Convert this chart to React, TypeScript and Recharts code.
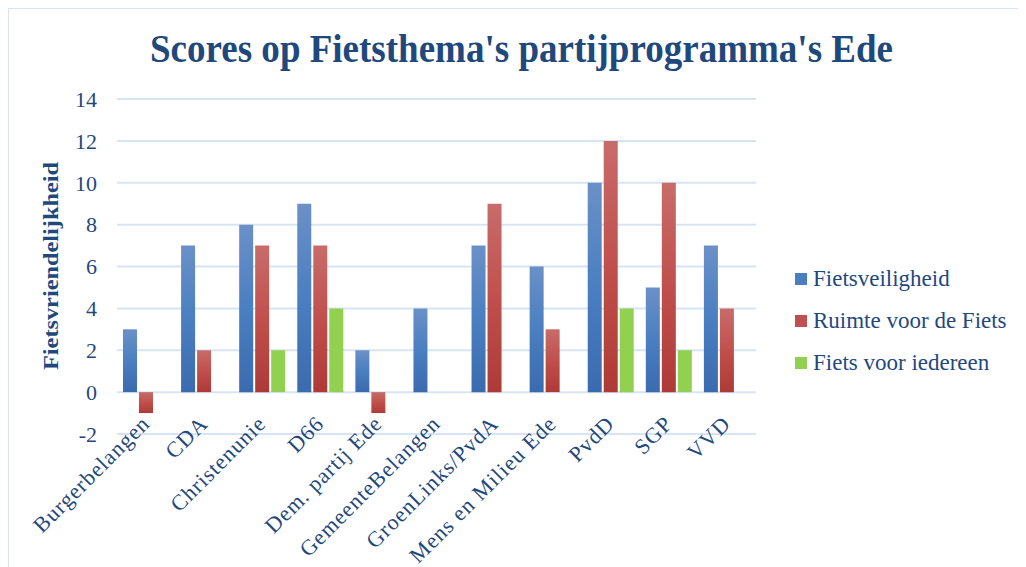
import React from 'react';
import { BarChart, Bar, XAxis, YAxis, CartesianGrid, Legend, Label } from 'recharts';

const categories = [
  'Burgerbelangen',
  'CDA',
  'Christenunie',
  'D66',
  'Dem. partij Ede',
  'GemeenteBelangen',
  'GroenLinks/PvdA',
  'Mens en Milieu Ede',
  'PvdD',
  'SGP',
  'VVD',
];
const fietsveiligheid = [3, 7, 8, 9, 2, 4, 7, 6, 10, 5, 7];
const ruimteVoorDeFiets = [-1, 2, 7, 7, -1, 0, 9, 3, 12, 10, 4];
const fietsVoorIedereen = [0, 0, 2, 4, 0, 0, 0, 0, 4, 2, 0];
const yTicks = [-2, 0, 2, 4, 6, 8, 10, 12, 14];

const seriesNames = ['Fietsveiligheid', 'Ruimte voor de Fiets', 'Fiets voor iedereen'];
const title = "Scores op Fietsthema's partijprogramma's Ede";
const yLabel = 'Fietsvriendelijkheid';

const data = categories.map((name, i) => ({
  name,
  a: fietsveiligheid[i],
  b: ruimteVoorDeFiets[i],
  c: fietsVoorIedereen[i],
}));

const TEXT = '#1F497D';
const FONT = '"Liberation Serif", "Times New Roman", serif';
const GRID = '#D9E4F3';

const legendColors = ['#4A7EBF', '#C0504D', '#92D050'];

const XTick = (props: any) => {
  const { x, y, payload } = props;
  const ax = x + 5;
  const ay = y - 9;
  return (
    <text
      x={ax}
      y={ay}
      transform={`rotate(-45, ${ax}, ${ay})`}
      textAnchor="end"
      fill={TEXT}
      fontFamily={FONT}
      fontSize={22}
      letterSpacing={1}
    >
      {payload.value}
    </text>
  );
};

const LegendContent = () => (
  <div style={{ position: 'absolute', left: 0, top: 0, width: 230, height: 126, fontFamily: FONT }}>
    {seriesNames.map((n, i) => (
      <div
        key={n}
        style={{
          position: 'absolute',
          left: 0,
          top: i * 42,
          height: 42,
          display: 'flex',
          alignItems: 'center',
          whiteSpace: 'nowrap',
        }}
      >
        <span
          style={{
            display: 'inline-block',
            width: 12,
            height: 12,
            background: legendColors[i],
            marginRight: 6,
          }}
        />
        <span style={{ color: TEXT, fontSize: 23 }}>{n}</span>
      </div>
    ))}
  </div>
);

export default function App() {
  return (
    <div
      style={{
        marginLeft: -1,
        marginTop: -1,
        width: 1030,
        height: 570,
        borderLeft: `2px solid ${GRID}`,
        borderTop: `2px solid ${GRID}`,
        position: 'relative',
        background: '#fff',
      }}
    >
      <svg
        width={1017}
        height={80}
        style={{ position: 'absolute', left: 0, top: 0, zIndex: 2, pointerEvents: 'none' }}
      >
        <text
          x={512.5}
          y={53}
          textAnchor="middle"
          fill={TEXT}
          fontFamily={FONT}
          fontWeight="bold"
          fontSize={39}
          textLength={743}
          lengthAdjust="spacingAndGlyphs"
        >
          {title}
        </text>
      </svg>
      <BarChart
        width={1017}
        height={558}
        data={data}
        margin={{ top: 90, right: 270, left: 0, bottom: 13 }}
        barCategoryGap={6}
        barGap={2}
      >
        <defs>
          <linearGradient id="gBlue" x1="0" y1="0" x2="0" y2="1">
            <stop offset="0%" stopColor="#6B90C7" />
            <stop offset="50%" stopColor="#4A7FC1" />
            <stop offset="100%" stopColor="#3A6BAE" />
          </linearGradient>
          <linearGradient id="gRed" x1="0" y1="0" x2="0" y2="1">
            <stop offset="0%" stopColor="#C76C6A" />
            <stop offset="50%" stopColor="#C0504D" />
            <stop offset="100%" stopColor="#AE3A37" />
          </linearGradient>
        </defs>
        <CartesianGrid vertical={false} stroke={GRID} strokeWidth={2} />
        <XAxis
          dataKey="name"
          axisLine={false}
          tickLine={false}
          tickSize={0}
          tickMargin={0}
          height={120}
          interval={0}
          tick={<XTick />}
        />
        <YAxis
          width={108}
          domain={[-2, 14]}
          ticks={yTicks}
          axisLine={false}
          tickLine={false}
          tickSize={0}
          tickMargin={20}
          tick={{ fill: TEXT, fontFamily: FONT, fontSize: 22 }}
        >
          <Label
            content={() => (
              <text
                x={49}
                y={257}
                transform="rotate(-90, 49, 257)"
                textAnchor="middle"
                fill={TEXT}
                fontFamily={FONT}
                fontWeight="bold"
                fontSize={21}
                textLength={208}
                lengthAdjust="spacingAndGlyphs"
              >
                {yLabel}
              </text>
            )}
          />
        </YAxis>
        <Legend
          layout="horizontal"
          verticalAlign="middle"
          align="right"
          wrapperStyle={{ left: 786, top: 249, width: 0, height: 0, overflow: 'visible' }}
          content={<LegendContent />}
        />
        <Bar dataKey="a" name={seriesNames[0]} fill="url(#gBlue)" isAnimationActive={false} />
        <Bar dataKey="b" name={seriesNames[1]} fill="url(#gRed)" isAnimationActive={false} />
        <Bar dataKey="c" name={seriesNames[2]} fill="#92D050" isAnimationActive={false} />
      </BarChart>
    </div>
  );
}
